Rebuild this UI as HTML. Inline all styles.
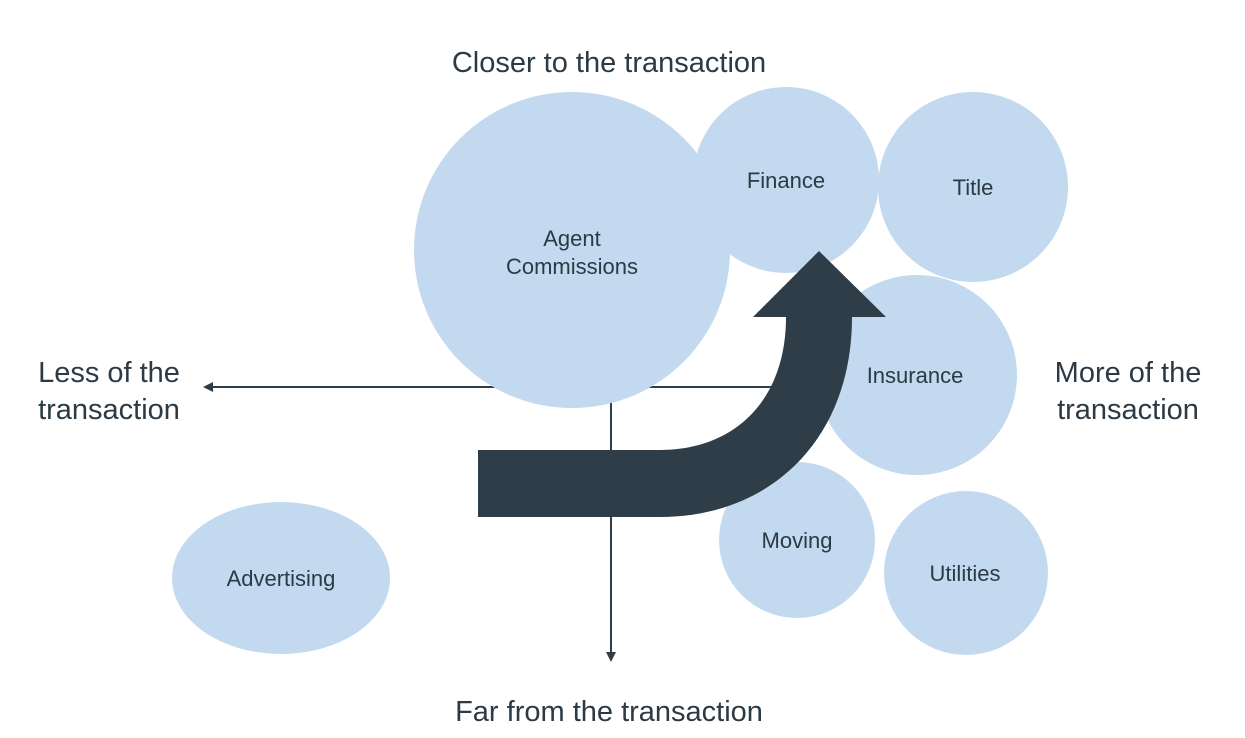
<!DOCTYPE html>
<html><head><style>body{margin:0;background:#fff}svg{display:block}text{font-family:"Liberation Sans",sans-serif;fill:#2b3a44}</style></head><body>
<svg width="1245" height="738" viewBox="0 0 1245 738" xmlns="http://www.w3.org/2000/svg">
<g stroke="#2e3d47" stroke-width="2" fill="none">
<line x1="210" y1="387" x2="800" y2="387"/>
<line x1="611" y1="390" x2="611" y2="652"/>
</g>
<polygon points="203,387 213,382 213,392" fill="#2e3d47"/>
<polygon points="611,662 606,652 616,652" fill="#2e3d47"/>
<g fill="#c3d9ef">
<circle cx="572" cy="250" r="158"/>
<circle cx="786" cy="180" r="93"/>
<circle cx="973" cy="187" r="95"/>
<circle cx="917" cy="375" r="100"/>
<circle cx="797" cy="540" r="78"/>
<circle cx="966" cy="573" r="82"/>
<ellipse cx="281" cy="578" rx="109" ry="76"/>
</g>
<path d="M478,450 L660,450 C735,450 786,400 786,317 L753,317 L819,251 L886,317 L852,317 C852,440 770,517 660,517 L478,517 Z" fill="#2e3d47"/>
<g font-size="22" text-anchor="middle">
<text x="572" y="246">Agent</text>
<text x="572" y="274">Commissions</text>
<text x="786" y="188">Finance</text>
<text x="973" y="195">Title</text>
<text x="915" y="383">Insurance</text>
<text x="797" y="548">Moving</text>
<text x="965" y="581">Utilities</text>
<text x="281" y="586">Advertising</text>
</g>
<g font-size="29" text-anchor="middle">
<text x="609" y="72">Closer to the transaction</text>
<text x="609" y="721">Far from the transaction</text>
<text x="109" y="382">Less of the</text>
<text x="109" y="419">transaction</text>
<text x="1128" y="382">More of the</text>
<text x="1128" y="419">transaction</text>
</g>
</svg>
</body></html>
